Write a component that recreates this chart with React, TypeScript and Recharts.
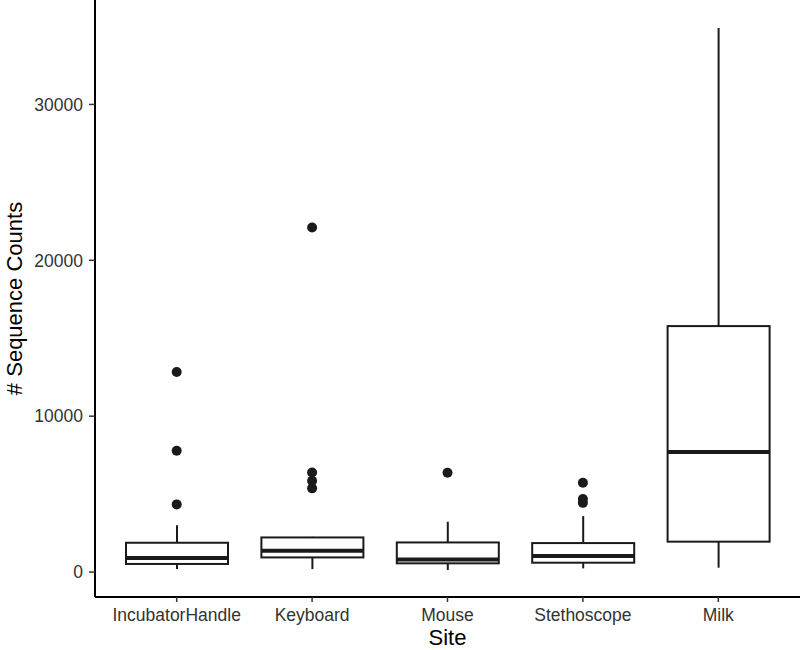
import React from "react";
import { ComposedChart, Bar, Line, XAxis, YAxis } from "recharts";

// Box plot summary per site
const sites = ["IncubatorHandle", "Keyboard", "Mouse", "Stethoscope", "Milk"];
const whiskerLow = [200, 190, 130, 235, 280];
const q1 = [520, 940, 560, 600, 1950];
const median = [900, 1370, 810, 1030, 7700];
const q3 = [1880, 2220, 1900, 1860, 15780];
const whiskerHigh = [3010, 2260, 3230, 3590, 34900];
const outliers = [
    [4340, 7780, 12840],
    [5370, 5850, 6390, 22100],
    [6370],
    [4440, 4680, 5730],
    [],
];
const yTicks = [0, 10000, 20000, 30000];

const maxOutliers = Math.max(...outliers.map((o) => o.length));

const data = sites.map((site, i) => {
    const row: any = {
        site,
        range: [whiskerLow[i], whiskerHigh[i]],
        low: whiskerLow[i],
        q1: q1[i],
        median: median[i],
        q3: q3[i],
        high: whiskerHigh[i],
    };
    for (let k = 0; k < maxOutliers; k++) {
        row[`o${k}`] = outliers[i][k] ?? null;
    }
    return row;
});

const BoxShape = (props: any) => {
    const { x, y, width, height, payload } = props;
    if (!payload) return null;
    const { low, high } = payload;
    // y is the pixel of "high", y + height the pixel of "low"
    const toY = (v: number) => y + (height * (high - v)) / (high - low);
    const cx = x + width / 2;
    const yQ1 = toY(payload.q1);
    const yQ3 = toY(payload.q3);
    const yMed = toY(payload.median);
    return (
        <g>
            <line x1={cx} x2={cx} y1={toY(high)} y2={yQ3} stroke="#1a1a1a" strokeWidth={2} />
            <line x1={cx} x2={cx} y1={yQ1} y2={toY(low)} stroke="#1a1a1a" strokeWidth={2} />
            <rect x={x} y={yQ3} width={width} height={yQ1 - yQ3} fill="#ffffff" stroke="#1a1a1a" strokeWidth={2} />
            <line x1={x} x2={x + width} y1={yMed} y2={yMed} stroke="#1a1a1a" strokeWidth={4} />
        </g>
    );
};

export default function App() {
    return (
        <div style={{ position: "absolute", left: 0, top: 0, fontFamily: "'Liberation Sans', Arial, sans-serif" }}>
            <ComposedChart width={800} height={650} data={data} margin={{ top: 0, right: 0, left: 0, bottom: 0 }}>
                <XAxis
                    dataKey="site"
                    type="category"
                    height={53}
                    padding={{ left: 14, right: 14 }}
                    axisLine={{ stroke: "#000000", strokeWidth: 2 }}
                    tickLine={{ stroke: "#333333", strokeWidth: 1.5 }}
                    tickSize={5}
                    tickMargin={7}
                    tick={{ fill: "#333333", fontSize: 17.5 }}
                    interval={0}
                    label={{ value: "Site", position: "insideBottom", offset: 5, style: { fill: "#000000", fontSize: 22 } }}
                />
                <YAxis
                    type="number"
                    domain={[-1600, 36700]}
                    ticks={yTicks}
                    width={95}
                    allowDataOverflow
                    axisLine={{ stroke: "#000000", strokeWidth: 2 }}
                    tickLine={{ stroke: "#333333", strokeWidth: 1.5 }}
                    tickSize={6}
                    tickMargin={6}
                    tick={{ fill: "#333333", fontSize: 17.5 }}
                    label={{
                        value: "# Sequence Counts",
                        angle: -90,
                        position: "insideLeft",
                        offset: 14,
                        style: { fill: "#000000", fontSize: 22, textAnchor: "middle" },
                    }}
                />
                <Bar dataKey="range" barSize={102} shape={BoxShape} isAnimationActive={false} />
                {Array.from({ length: maxOutliers }, (_, k) => (
                    <Line
                        key={k}
                        dataKey={`o${k}`}
                        stroke="none"
                        dot={{ r: 5, fill: "#1a1a1a", stroke: "none" }}
                        activeDot={false}
                        isAnimationActive={false}
                        legendType="none"
                    />
                ))}
            </ComposedChart>
        </div>
    );
}
